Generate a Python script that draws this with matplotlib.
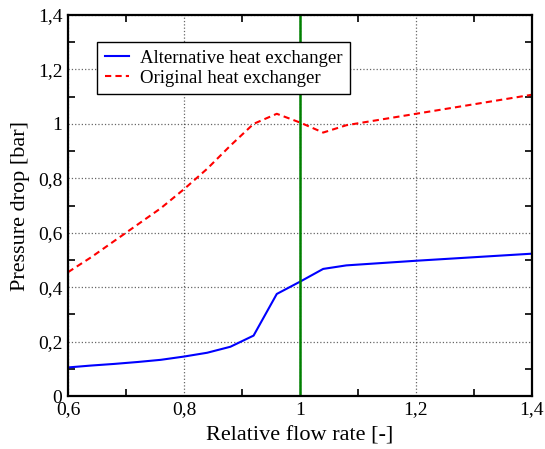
import matplotlib.pyplot as plt
from matplotlib.ticker import FuncFormatter, MultipleLocator

plt.rcParams["font.family"] = ["Liberation Serif", "DejaVu Serif"]

# Relative flow rate [-]
x = [0.6, 0.64, 0.68, 0.72, 0.76, 0.8, 0.84, 0.88, 0.92, 0.96, 1.0, 1.04, 1.08, 1.2, 1.4]
# Pressure drop [bar]
alt = [0.105, 0.112, 0.118, 0.125, 0.133, 0.145, 0.159, 0.181, 0.222, 0.375, 0.42, 0.467, 0.48, 0.497, 0.523]
orig = [0.455, 0.51, 0.57, 0.63, 0.69, 0.76, 0.835, 0.92, 1.0, 1.037, 1.005, 0.968, 0.995, 1.037, 1.107]

fig = plt.figure(figsize=(5.45, 4.49), dpi=100)
ax = fig.add_axes([0.1248, 0.118, 0.8512, 0.8486])

ax.plot(x, alt, color="#0000ff", lw=1.5, label="Alternative heat exchanger")
ax.plot(x, orig, color="#ff0000", lw=1.5, ls=(0, (3, 2)), label="Original heat exchanger")
ax.axvline(1.0, color="#008000", lw=1.8)

ax.set_xlim(0.6, 1.4)
ax.set_ylim(0, 1.4)
ax.xaxis.set_major_locator(MultipleLocator(0.2))
ax.xaxis.set_minor_locator(MultipleLocator(0.1))
ax.yaxis.set_major_locator(MultipleLocator(0.2))
ax.yaxis.set_minor_locator(MultipleLocator(0.1))

def comma(v, pos):
    s = ("%.1f" % v).rstrip("0").rstrip(".")
    return s.replace(".", ",")

ax.xaxis.set_major_formatter(FuncFormatter(comma))
ax.yaxis.set_major_formatter(FuncFormatter(comma))
ax.tick_params(which="both", direction="in", top=True, right=True, labelsize=14, width=1.2)
ax.tick_params(which="major", length=0, pad=4)
ax.tick_params(which="minor", length=5)
ax.grid(True, which="major", ls=":", color="black", lw=0.9, alpha=0.6)
for sp in ax.spines.values():
    sp.set_linewidth(1.6)

ax.set_xlabel("Relative flow rate [-]", fontsize=16, labelpad=6)
ax.set_ylabel("Pressure drop [bar]", fontsize=16, labelpad=6)

leg = ax.legend(loc="upper left", bbox_to_anchor=(0.0625, 0.929), borderaxespad=0,
                fontsize=13.5, fancybox=False, framealpha=1, edgecolor="black",
                handlelength=1.3, handletextpad=0.6, labelspacing=0.15)
leg.get_frame().set_linewidth(1.0)

fig.savefig("out.png", dpi=100)
